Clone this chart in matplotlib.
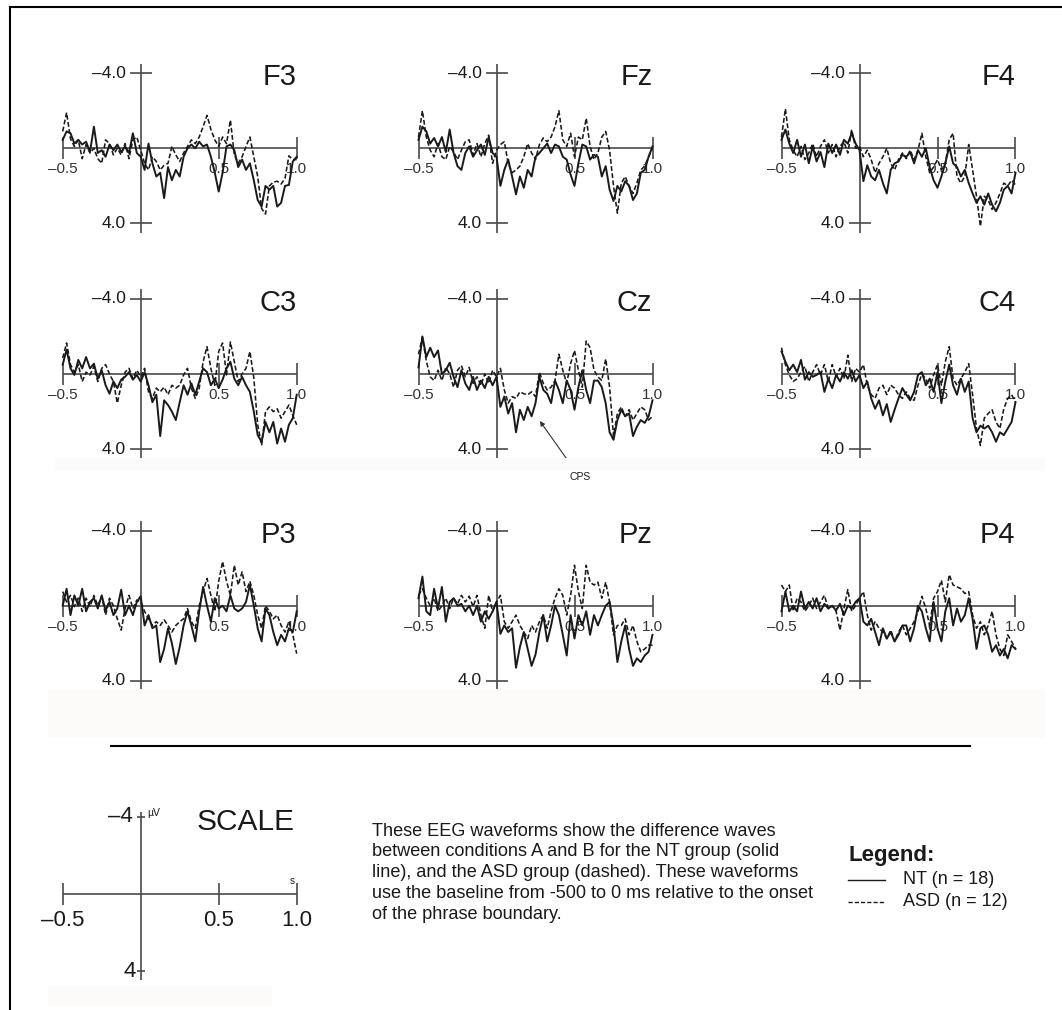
import numpy as np
import matplotlib
matplotlib.use("Agg")
import matplotlib.pyplot as plt
from matplotlib.lines import Line2D
from matplotlib.patches import Rectangle

plt.rcParams['font.family'] = ['Liberation Sans', 'DejaVu Sans']

# ---------------- data (µV, negative up), sampled every 25 ms from -0.5 to 1.0 s
electrodes = ["F3", "Fz", "F4", "C3", "Cz", "C4", "P3", "Pz", "P4"]
t_start, t_end = -0.5, 1.0

F3_NT = [-0.45,-0.9,-0.8,-0.25,-0.45,-0.2,-0.35,0.2,-1.15,0.25,0.1,0.45,-0.2,0.1,-0.2,0.2,-0.1,0.25,-0.8,0.25,0.45,
         1.15,-0.25,0.8,1.5,1.3,2.65,1.0,1.7,1.15,1.5,0.45,0,-0.2,0,-0.35,-0.1,-0.2,0.45,1.3,2.3,
         1.3,-0.1,-0.2,0.1,1.0,0.6,1.15,0.8,1.7,2.75,3.1,2.0,2.2,2.0,3.1,2.9,2.0,1.95,0.7,0.45]
F3_ASD = [-0.9,-1.9,-0.5,-0.1,-0.45,0.55,-0.2,0.25,0,0.55,0.8,-0.45,-0.25,0.35,0,0.35,-0.25,0.55,-0.45,-0.6,0.1,
          0.8,1.15,0.45,0.7,1.15,0.9,0.8,-0.1,0.35,0.7,0.25,-0.1,-0.45,-0.25,-0.6,-1.15,-1.75,-1.0,-0.45,-0.1,
          -0.6,-0.25,-1.5,0.35,0.8,0.45,-0.1,-0.6,0.45,1.5,3.2,3.5,2.0,1.8,1.75,1.9,1.6,0.4,0.6,0.6]
Fz_NT = [-0.45,-1.15,-0.9,-0.25,-0.55,-0.1,-0.6,0.2,-1.0,0.25,0.95,1.15,0.25,-0.1,0.45,0.1,-0.2,0.35,-0.6,0.25,0.45,
         2.0,1.15,0.6,1.5,2.45,1.5,2.1,1.15,1.5,0.45,0.25,0,-0.25,0.25,-0.2,-0.1,0.45,0.6,1.4,2.0,
         0.8,-0.2,-0.1,0.6,0.35,0.45,1.5,0.95,2.2,2.8,2.0,2.3,1.75,2.0,2.75,2.4,1.3,1.15,0.45,-0.1]
Fz_ASD = [-0.6,-2.0,-0.6,0.1,0.45,-0.25,0.45,0.6,-0.1,0.2,0.6,0.1,-0.35,-0.45,0.35,-0.25,0.45,-0.25,-0.7,0.8,0.1,
          -0.2,-0.35,0.8,1.3,1.15,0.95,0.45,-0.25,0.25,0.6,-0.2,-0.55,-0.35,-0.6,-1.15,-2.0,-0.45,-0.1,-0.8,0.45,
          -0.6,-0.45,-1.6,-0.1,0.6,0.25,-0.6,-0.9,0.1,2.0,3.45,1.85,1.5,2.0,2.4,1.85,1.15,0.95,0.45,0]
F4_NT = [-0.45,-1.0,-0.25,0.25,-0.45,0.45,-0.2,0.8,-0.1,0.7,0.2,1.0,-0.25,0.25,-0.2,0.35,-0.45,-0.25,-0.8,-0.25,0.1,
         1.75,0.9,1.5,1.7,1.15,1.85,2.4,1.15,0.8,0.7,0.35,0.45,0.2,0.8,0.1,0.45,0,1.0,1.7,2.1,
         1.5,0.8,-0.1,0.8,1.0,1.5,1.15,1.85,2.4,2.9,2.55,3.0,2.4,3.0,3.35,2.9,2.2,2.0,2.4,1.3]
F4_ASD = [-0.6,-2.1,-0.45,0.1,0.45,-0.1,0.6,0.25,-0.25,0.45,-0.1,-0.45,0.25,-0.2,0.45,-0.1,-0.35,0.25,-1.0,0,-0.1,
          0.45,0.1,0.6,1.3,0.8,0.45,0,0.8,1.15,0.6,0.25,0.55,0.1,0.6,0.1,-0.8,0.45,1.3,1.0,0.6,
          1.15,0.8,-0.45,-0.8,1.5,1.85,1.5,-0.2,1.15,2.55,4.15,2.55,2.75,3.25,2.9,2.4,1.85,2.0,1.7,1.95]
C3_NT = [-0.5,-1.3,-0.3,0.05,-0.75,-0.3,-0.9,-0.3,-0.55,0.25,-0.2,0.6,1.05,0.4,0.75,0.3,0.15,-0.1,0.3,0.05,0.4,
         -0.1,0.6,1.5,1.1,3.3,1.4,1.65,2.0,2.45,1.5,0.6,1.1,0.5,1.1,0.4,-0.3,-0.1,0.6,0.25,0.75,
         0.3,-0.3,-0.65,0.25,0.6,0.15,0.6,0.95,2.0,3.25,3.6,2.55,3.1,2.55,3.7,2.9,3.6,2.7,2.35,1.1]
C3_ASD = [-0.85,-1.65,-0.5,-0.1,-0.5,0.4,-0.1,0.05,-0.4,0.4,-0.3,-0.5,0,0.4,1.55,0.6,-0.1,-0.3,0.25,-0.2,0.15,
          -0.3,0.95,1.3,0.75,0.95,0.7,1.1,0.6,0.75,0.6,0.05,-0.3,0.75,1.3,0.75,-0.65,-1.45,-0.3,0.6,-1.2,
          -1.65,0.05,-1.7,-0.65,0.4,0,-0.3,-1.2,0.2,2.7,3.8,2.0,1.75,2.0,1.85,2.35,2.0,1.65,2.2,2.7]
Cz_NT = [-0.35,-2.0,-0.9,-1.4,-0.9,-1.25,0,-0.2,-0.6,0.15,0.7,-0.2,0.5,0.85,0.15,0.85,0.35,0.75,0.15,0.6,0.15,
         1.75,1.2,2.1,1.55,3.1,1.9,2.45,1.75,2.25,1.55,0.15,0.85,1.05,1.55,0.35,0.85,1.55,0.35,0.85,1.9,
         0.7,-0.2,0.85,1.55,0.35,0.35,0.7,1.55,3.1,3.5,2.45,1.9,2.25,2.1,3.3,2.8,2.45,2.6,2.25,1.4]
Cz_ASD = [-1.05,-1.95,-0.7,0.15,0.35,-0.2,0.35,-0.35,0,0.7,-0.2,-0.45,0.15,-0.35,0.5,0.15,0.6,0,0.5,-0.2,0.15,
          -0.3,0.85,1.55,1.2,1.3,0.95,1.05,1.1,0.95,1.2,-0.1,0.5,0.85,0.7,0.35,-1.05,-0.2,0.5,-0.55,-1.25,
          -0.2,0.7,-1.75,-1.4,-0.2,0.15,0.35,-0.8,0.7,3.3,2.1,1.75,2.25,1.9,2.45,2.1,1.75,1.9,2.45,2.25]
C4_NT = [-1.2,-0.65,-0.2,-0.5,-0.1,-0.75,0.3,-0.1,0.15,0.05,-0.1,0.95,0.25,0.75,0.05,0.4,-0.1,0.25,-0.2,0.4,0.05,
         0.75,0.4,1.3,1.85,1.4,2.2,1.6,2.55,1.9,1.3,0.75,1.1,1.4,0.95,0.05,-0.1,0.6,0.25,0.95,-0.1,
         1.55,0.4,-0.5,0.6,1.1,0.25,0.95,0.4,2.35,3.1,2.75,2.9,2.75,3.1,3.6,3.1,3.25,2.9,2.55,1.5]
C4_ASD = [-1.4,-0.5,0.05,0.4,0.25,-0.1,-0.4,0.4,-0.1,-0.5,0.05,-0.5,0.4,-0.5,0.15,-0.3,0.25,-1.0,0.4,-0.3,-0.1,
          -0.5,0.6,1.1,1.3,0.75,0.6,1.1,0.6,0.75,1.1,1.3,0.95,1.3,1.4,0.6,0,0.25,0.75,0.05,-0.5,
          0.6,-0.65,-1.45,0.25,0.6,0.25,-0.1,-0.55,1.1,2.9,3.8,2.35,2.1,1.9,2.55,2.9,1.85,1.3,1.1,1.5]
P3_NT = [0,-0.9,0.5,-0.55,0,-0.9,0.3,-0.2,-0.4,0.15,-0.55,0.25,-0.2,0.5,0.15,-0.85,0.5,0,0.5,-0.2,-0.5,
         1.05,0.5,1.2,1.05,3.0,2.3,1.2,2.0,3.1,2.2,1.05,0.3,1.05,1.9,0.3,-1.0,0,0.85,-0.4,0.15,
         0,0.3,-0.55,0.15,0.3,0.15,-0.2,-1.1,0,1.2,1.9,0.15,0.5,1.4,2.1,1.55,1.9,1.2,1.4,0.3]
P3_ASD = [-0.75,-0.2,-0.55,0.05,-0.4,0.3,-0.4,0.05,-0.55,0,-0.5,0.5,-0.4,0,0.7,1.3,0.15,-0.55,0.15,-0.3,-0.2,
          0.3,0.7,1.05,0.85,1.05,0.75,1.05,1.4,1.05,0.85,0.7,0.15,0.85,1.2,0,-0.75,-1.45,-0.55,0.3,-1.3,
          -2.35,-1.3,-0.55,-2.15,-1.1,-1.8,-0.75,-1.3,-0.55,0.5,1.2,0,0.3,0.7,0.5,1.05,1.4,0.85,1.55,2.55]
Pz_NT = [-0.4,-1.55,0.3,0.5,-0.9,0.15,-1.0,0.85,-0.2,-0.4,0,-0.1,0.3,0,0.5,0,0.85,0.3,0.7,0.3,-0.2,
         1.5,1.05,1.4,1.2,3.3,2.2,1.4,2.3,3.2,2.6,1.4,0.5,1.9,1.05,0,0.5,1.55,2.65,0.5,1.75,
         0.5,1.05,0.3,1.55,0.5,1.05,0.5,0,-0.2,1.05,3.0,1.9,1.05,2.3,3.2,2.8,3.0,2.65,2.45,1.55]
Pz_ASD = [-0.55,-0.9,-0.4,0,-0.4,0.3,0,-0.4,0.15,-0.4,-0.1,-0.55,-0.2,-0.5,0.05,-0.55,0.5,1.2,-0.55,0.3,-0.2,
          -0.55,0.85,1.2,0.85,0.5,1.05,1.4,1.75,1.05,1.4,0.85,0.5,1.2,0.3,-0.4,-0.9,-0.55,0.5,-0.55,-2.15,
          -0.75,0.15,-2.15,-1.25,-1.1,-1.25,-0.4,-1.25,-0.2,1.55,1.05,1.05,0.7,1.55,1.05,1.9,2.45,2.3,2.1,2.1]
P4_NT = [0.3,-0.75,0.3,0,0.3,-0.75,0.15,-0.2,0.15,-0.4,0.3,-0.1,0.15,0,0.25,-0.1,0.5,0,0.15,-0.2,-0.4,
         0.85,1.05,0.7,1.4,2.1,1.2,1.75,1.4,1.9,1.55,1.05,1.05,1.9,1.2,0,0.3,1.2,1.9,-0.2,1.2,
         1.9,0.3,-0.4,1.05,0.15,0.85,0.5,-0.4,0.7,2.3,1.2,1.05,1.55,2.45,2.1,2.65,2.3,2.8,2.1,2.3]
P4_ASD = [-1.1,-0.75,-1.1,0.3,-0.4,-0.2,0.3,0,-0.4,0.15,-0.2,-0.55,0.15,0,0.3,1.3,0.15,-0.85,0.3,0,-0.4,
          -0.75,0.5,1.3,0.85,1.2,1.4,1.75,1.3,1.9,1.4,1.05,1.55,1.2,0.85,0.3,-0.5,0.15,1.05,-0.4,-0.75,
          -1.35,-0.2,-1.65,-1.1,-1.0,-0.9,-0.65,-0.75,0.5,1.2,0.85,1.55,1.05,0.3,1.55,2.3,2.65,1.55,1.9,2.3]

NT_series = [F3_NT, Fz_NT, F4_NT, C3_NT, Cz_NT, C4_NT, P3_NT, Pz_NT, P4_NT]
ASD_series = [F3_ASD, Fz_ASD, F4_ASD, C3_ASD, Cz_ASD, C4_ASD, P3_ASD, Pz_ASD, P4_ASD]

x_tick_labels = ["\u20130.5", "0.5", "1.0"]
y_tick_labels = ["\u20134.0", "4.0"]
legend_labels = ["NT (n = 18)", "ASD (n = 12)"]
description = ["These EEG waveforms show the difference waves",
               "between conditions A and B for the NT group (solid",
               "line), and the ASD group (dashed). These waveforms",
               "use the baseline from -500 to 0 ms relative to the onset",
               "of the phrase boundary."]

# ---------------- layout (pixels)
W, H = 1062, 1010
fig = plt.figure(figsize=(W / 100, H / 100), dpi=100)
fig.patch.set_facecolor("white")

def fx(x):
    return x / W

def fy(y):
    return 1 - y / H

AXC = "#4a4a4a"
WAVE = "#1a1a1a"
TXT = "#1a1a1a"
PPS = 156.0       # pixels per second

# faint background bands
for (x0, y0, x1, y1) in [(55, 458, 1045, 471), (48, 689, 1045, 738), (48, 986, 272, 1006)]:
    fig.patches.append(Rectangle((fx(x0), fy(y1)), fx(x1) - fx(x0), fy(y0) - fy(y1),
                                 transform=fig.transFigure, facecolor="#fdfafa",
                                 edgecolor="none", zorder=0))

col_left = [62.7, 418.5, 781.5]
row_zero = [148.3, 374.0, 605.7]
PPU = 18.8
YL = 4.8

def make_axes(left_px, zero_px, ppu):
    ax = fig.add_axes([fx(left_px), fy(zero_px + YL * ppu), 1.5 * PPS / W, 2 * YL * ppu / H])
    ax.set_xlim(t_start, t_end)
    ax.set_ylim(YL, -YL)
    ax.axis("off")
    ax.patch.set_alpha(0)
    return ax

tx = 11 / PPS
ty = 11 / PPU
for i, name in enumerate(electrodes):
    r, c = divmod(i, 3)
    ax = make_axes(col_left[c], row_zero[r], PPU)
    kw = dict(color=AXC, lw=1.2, clip_on=False, zorder=1, solid_capstyle="butt")
    ax.plot([t_start, t_end], [0, 0], **kw)
    ax.plot([0, 0], [-4.5, 4.5], **kw)
    for yv in (-4, 4):
        ax.plot([-tx, tx], [yv, yv], **kw)
    for xv in (-0.5, 0.5, 1.0):
        ax.plot([xv, xv], [-ty, ty], **kw)
    for yv, lab in zip((-4, 4), y_tick_labels):
        ax.text(-0.095, yv, lab, ha="right", va="center", fontsize=12.5, color=TXT)
    for xv, lab in zip((-0.5, 0.5, 1.0), x_tick_labels):
        ax.text(xv, 1.12, lab, ha="center", va="center", fontsize=11, color="#333333", zorder=1)
    ax.text(1.0, -3.35, name, ha="right", va="baseline", fontsize=21, color=TXT)
    nt = np.asarray(NT_series[i], dtype=float)
    asd = np.asarray(ASD_series[i], dtype=float)
    ax.plot(np.linspace(t_start, t_end, len(nt)), nt, color=WAVE, lw=1.4,
            clip_on=False, zorder=3)
    ax.plot(np.linspace(t_start, t_end, len(asd)), asd, color=WAVE, lw=1.15,
            linestyle=(0, (3, 1.5)), clip_on=False, zorder=3)
    if name == "Cz":
        ax.annotate("CPS", xy=(0.278, 2.5), xytext=(0.534, 5.5), ha="center", va="center",
                    fontsize=7.5, color=TXT, annotation_clip=False,
                    arrowprops=dict(arrowstyle="-|>", color="#333333", lw=0.8,
                                    mutation_scale=7, shrinkA=6, shrinkB=0))

# ---------------- scale panel
sppu = 19.3
sax = make_axes(62.7, 894.0, sppu)
kw = dict(color=AXC, lw=1.2, clip_on=False, solid_capstyle="butt")
sax.plot([t_start, t_end], [0, 0], **kw)
sax.plot([0, 0], [-4.27, 4.46], **kw)
for yv in (-4, 4):
    sax.plot([-0.026, 0.026], [yv, yv], **kw)
for xv in (-0.5, 0.5, 1.0):
    sax.plot([xv, xv], [-11 / sppu, 11 / sppu], **kw)
sax.text(-0.05, -4, "\u20134", ha="right", va="center", fontsize=16, color=TXT)
sax.text(-0.03, 4, "4", ha="right", va="center", fontsize=16, color=TXT)
sax.text(0.04, -4.2, "\u00b5V", ha="left", va="center", fontsize=7.5, color=TXT)
sax.text(0.972, -0.65, "s", ha="center", va="center", fontsize=7, color=TXT)
for xv, lab in zip((-0.5, 0.5, 1.0), x_tick_labels):
    sax.text(xv, 1.35, lab, ha="center", va="center", fontsize=16, color=TXT)
sax.text(0.985, -3.3, "SCALE", ha="right", va="baseline", fontsize=21.5, color=TXT)

# ---------------- description text
for k, line in enumerate(description):
    fig.text(fx(372), fy(831 + 20.8 * k), line, ha="left", va="center", fontsize=13.1, color=TXT)

# ---------------- legend
fig.text(fx(849), fy(856), "Legend:", ha="left", va="center", fontsize=16,
         fontweight="bold", color=TXT)
fig.add_artist(Line2D([fx(848), fx(885)], [fy(880), fy(880)], color=WAVE, lw=1.0))
fig.add_artist(Line2D([fx(848), fx(885)], [fy(902), fy(902)], color=WAVE, lw=1.0,
                      linestyle=(0, (3, 1.5))))
fig.text(fx(903), fy(880), legend_labels[0], ha="left", va="center", fontsize=13, color=TXT)
fig.text(fx(903), fy(902), legend_labels[1], ha="left", va="center", fontsize=13, color=TXT)

# ---------------- separator and border
fig.add_artist(Line2D([fx(111), fx(970)], [fy(745.7), fy(745.7)], color="black", lw=1.5))
fig.add_artist(Line2D([fx(9.5), fx(W)], [fy(7), fy(7)], color="black", lw=1.5))
fig.add_artist(Line2D([fx(9.5), fx(9.5)], [fy(7), fy(H)], color="black", lw=1.5))

fig.savefig("out.png", dpi=100)
